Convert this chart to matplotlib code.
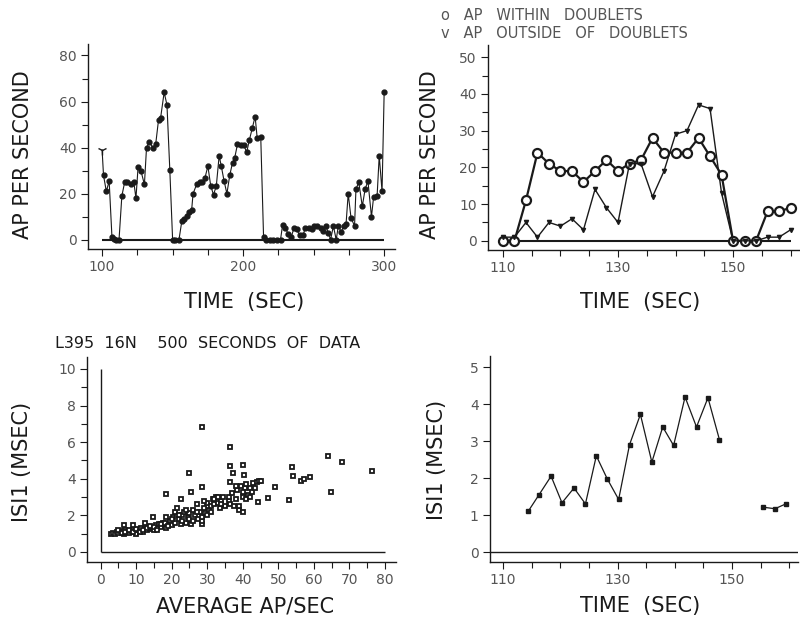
import matplotlib
matplotlib.use('Agg')
import matplotlib.pyplot as plt
from matplotlib.ticker import MultipleLocator

# top left: AP per second over 100-300 s
rate_t = [100, 101, 103, 105, 107, 108.5, 110, 112, 114, 116, 118, 120.5, 122.5, 124, 125.5,
          127.5, 130, 131.5, 133.5, 136, 138, 140, 141.5, 144, 146, 148, 150, 152, 154.5,
          156.5, 158, 160, 161.5, 163.5, 164.5, 167, 169.5, 171, 173, 175, 177, 179, 181,
          183, 184.5, 186.5, 188.5, 190.5, 192.5, 194, 196, 198.5, 200.5, 202.5, 204.5,
          206.5, 208.5, 210, 212.5, 214.5, 216.5, 219, 221.5, 224, 226.5, 228, 230, 232,
          234, 236, 238, 240, 242.5, 244, 246.5, 248.5, 250.5, 252.5, 255, 256.5, 258.5,
          260.5, 262, 264, 266, 267.5, 269.5, 271.5, 273, 274.5, 276.5, 279, 280, 282,
          284.5, 286.5, 288.5, 291, 292.5, 295, 296.5, 298.5, 300]
rate_v = [39, 28, 21, 25.5, 1, 0.3, 0, 0, 19, 25, 25, 24, 25, 18, 31.5,
          30, 24, 40, 42.5, 40, 41.5, 52, 53, 64, 58.5, 30.5, 0, 0, 0,
          8, 9, 10.5, 12, 13, 20, 24, 25, 25, 27, 32, 23.5, 19.5, 23.5,
          36.5, 32, 25.5, 20, 28, 33.5, 35.5, 41.5, 41, 41, 38, 43.5,
          48.5, 53.5, 44, 44.5, 1, 0, 0, 0, 0, 0, 6.5, 5, 2.5,
          1, 5, 4.5, 2, 2, 5, 5, 4.5, 6, 6, 5, 4, 6,
          3, 0, 6, 0, 6, 3.5, 6, 7, 20, 9.5, 6, 22, 25,
          14.5, 22, 25.5, 10, 18.5, 19, 36.5, 21, 64]

# top right: AP within / outside doublets
dbl_t = [110, 112, 114, 116, 118, 120, 122, 124, 126, 128, 130, 132, 134,
         136, 138, 140, 142, 144, 146, 148, 150, 152, 154, 156, 158, 160]
within = [0, 0, 11, 24, 21, 19, 19, 16, 19, 22, 19, 21, 22,
          28, 24, 24, 24, 28, 23, 18, 0, 0, 0, 8, 8, 9]
outside = [1, 1, 5, 1, 5, 4, 6, 3, 14, 9, 5, 21, 21,
           12, 19, 29, 30, 37, 36, 13, 0, 0, 0, 1, 1, 3]

# bottom left: ISI1 vs average rate (500 s of data)
avg_rate = [3, 3.5, 4, 4.5, 5, 5.5, 6, 6.5, 7, 7.5, 8, 8.5, 9, 9.5, 10, 10.5, 11, 11.5,
            12, 12.5, 13, 13.5, 14, 14.5, 15, 15.5, 16, 16.5, 17, 17.5, 18, 18.5, 19,
            19.5, 20, 20.5, 21, 21, 21.5, 22, 22.5, 23, 23.5, 24, 24.5, 25, 25.5, 26,
            26.5, 27, 27.5, 28, 28.5, 28.5, 28.5, 29, 29.5, 30, 30.5, 31, 31.5, 32,
            32.5, 33, 33.5, 34, 34.5, 35, 36, 36, 36.5, 37, 37.5, 38, 38.5, 39, 39.5,
            40, 40, 40.5, 41, 41.5, 42, 42.5, 43, 43.5, 44, 44.5, 45,
            5, 6, 7, 8, 9, 10, 11, 12, 13, 14, 15, 16, 17, 18, 19, 20, 22, 23, 24,
            25, 26, 27, 29, 30, 31, 32, 33, 34, 38, 39, 40, 41, 42,
            28.6, 36.3, 36.3, 37.2, 40.2, 40.4, 24.8, 28.6, 36.4, 18.4, 22.6, 25.4,
            53.8, 54.0, 56.3, 57.1, 59.0, 64.0, 68.0, 76.2, 64.8, 49.0, 47.2, 52.9,
            44.2, 14.7, 18.4, 9.0, 6.5, 12.5]
isi_avg = [1.0, 1.05, 1.0, 1.1, 1.05, 1.15, 1.1, 1.0, 1.2, 1.1, 1.05, 1.15, 1.2, 1.1, 1.0,
           1.2, 1.15, 1.3, 1.1, 1.25, 1.2, 1.35, 1.25, 1.3, 1.2, 1.45, 1.3, 1.5, 1.35,
           1.6, 1.4, 1.3, 1.55, 1.7, 1.45, 1.9, 1.6, 2.2, 2.4, 1.8, 1.55, 2.0, 2.2, 1.6,
           1.9, 2.1, 1.5, 2.3, 2.0, 2.6, 1.8, 2.2, 1.5, 1.7, 1.9, 2.4, 2.1, 2.7, 2.3,
           2.5, 2.9, 2.6, 3.0, 2.7, 2.4, 2.8, 3.0, 2.5, 2.8, 3.0, 2.6, 3.2, 2.5, 2.9,
           3.4, 2.3, 3.6, 2.2, 3.0, 3.5, 3.7, 3.1, 3.5, 3.3, 3.75, 3.5, 3.8, 3.85, 3.85,
           1.2, 1.05, 1.1, 1.2, 1.1, 1.25, 1.1, 1.2, 1.3, 1.4, 1.35, 1.2, 1.5, 1.6, 1.4,
           1.8, 2.0, 1.7, 2.3, 1.8, 1.7, 2.2, 2.8, 2.0, 2.2, 2.9, 3.0, 2.6, 3.6, 2.5,
           3.3, 2.9, 3.0,
           6.85, 5.75, 4.72, 4.3, 4.75, 4.2, 4.3, 3.53, 3.8, 3.17, 2.89, 3.25,
           4.66, 4.17, 3.9, 3.99, 4.11, 5.26, 4.93, 4.44, 3.3, 3.57, 2.93, 2.84,
           2.71, 1.93, 1.93, 1.47, 1.47, 1.56]

# bottom right: ISI1 over time
isi_t = [114.4, 116.3, 118.4, 120.3, 122.4, 124.4, 126.3, 128.2, 130.2, 132.1, 134,
         136, 137.9, 139.8, 141.8, 143.8, 145.8, 147.8]
isi_v = [1.1, 1.55, 2.05, 1.33, 1.73, 1.3, 2.6, 1.98, 1.42, 2.9, 3.72,
         2.43, 3.38, 2.88, 4.19, 3.38, 4.17, 3.04]
isi_t2 = [155.5, 157.5, 159.4]
isi_v2 = [1.21, 1.17, 1.3]

INK = '#1a1a1a'
TICK_INK = '#555555'


def style(ax):
    for s in ['top', 'right']:
        ax.spines[s].set_visible(False)
    for s in ['left', 'bottom']:
        ax.spines[s].set_linewidth(1.0)
        ax.spines[s].set_color(INK)
    ax.tick_params(which='both', direction='out', width=0.8, color=INK,
                   labelsize=10, labelcolor=TICK_INK, pad=3)
    ax.tick_params(which='major', length=5)
    ax.tick_params(which='minor', length=4)


fig = plt.figure(figsize=(8, 6.28), dpi=100)

# --- top left
ax1 = fig.add_axes([0.110, 0.6035, 0.3843, 0.3265])
style(ax1)
ax1.hlines(0, 100, 300, color=INK, lw=1.5)
ax1.plot(rate_t[1:], rate_v[1:], '-o', color=INK, lw=0.8, ms=3.5, mec=INK)
ax1.plot(rate_t[:2], rate_v[:2], '-', color=INK, lw=0.8)
ax1.plot(rate_t[0], rate_v[0], marker='1', color=INK, ms=7)
ax1.set_xlim(90, 308)
ax1.set_ylim(-4, 85)
ax1.set_xticks([100, 200, 300])
ax1.xaxis.set_minor_locator(MultipleLocator(25))
ax1.set_yticks([0, 20, 40, 60, 80])
ax1.yaxis.set_minor_locator(MultipleLocator(10))

# --- top right
ax2 = fig.add_axes([0.610, 0.6019, 0.389, 0.3264])
style(ax2)
ax2.hlines(0, 110, 160, color=INK, lw=1.5)
ax2.plot(dbl_t, within, '-o', color=INK, lw=1.6, ms=6.5, mfc='white', mec=INK, mew=1.6)
ax2.plot(dbl_t, outside, '-v', color=INK, lw=1.0, ms=3)
ax2.set_xlim(107.4, 161.5)
ax2.set_ylim(-2.5, 53.3)
ax2.set_xticks([110, 130, 150])
ax2.xaxis.set_minor_locator(MultipleLocator(5))
ax2.set_yticks([0, 10, 20, 30, 40, 50])
ax2.yaxis.set_minor_locator(MultipleLocator(5))

# --- bottom left
ax3 = fig.add_axes([0.1088, 0.1051, 0.3858, 0.3264])
style(ax3)
ax3.hlines(0, 0, 80, color=INK, lw=1.0)
ax3.vlines(0, 0, 10, color=INK, lw=1.0)
ax3.plot(avg_rate, isi_avg, 's', ls='none', ms=3.0, mfc='white', mec=INK, mew=1.3)
ax3.set_xlim(-3.8, 83)
ax3.set_ylim(-0.55, 10.65)
ax3.set_xticks(range(0, 81, 10))
ax3.xaxis.set_minor_locator(MultipleLocator(5))
ax3.set_yticks(range(0, 11, 2))
ax3.yaxis.set_minor_locator(MultipleLocator(1))

# --- bottom right
ax4 = fig.add_axes([0.6123, 0.1057, 0.385, 0.3275])
style(ax4)
ax4.hlines(0, 107.7, 161.5, color=INK, lw=1.0)
ax4.plot(isi_t, isi_v, '-s', color=INK, lw=0.9, ms=3)
ax4.plot(isi_t2, isi_v2, '-s', color=INK, lw=0.9, ms=2.5)
ax4.set_xlim(107.7, 161.5)
ax4.set_ylim(-0.26, 5.3)
ax4.set_xticks([110, 130, 150])
ax4.xaxis.set_minor_locator(MultipleLocator(5))
ax4.set_yticks(range(0, 6))

# labels and headers
lab = dict(color=INK, ha='center', va='center', fontsize=15)
fig.text(23 / 800, 1 - 155 / 628, 'AP PER SECOND', rotation=90, **lab)
fig.text(430 / 800, 1 - 155 / 628, 'AP PER SECOND', rotation=90, **lab)
fig.text(22 / 800, 1 - 462 / 628, 'ISI1 (MSEC)', rotation=90, **lab)
fig.text(437 / 800, 1 - 460 / 628, 'ISI1 (MSEC)', rotation=90, **lab)
fig.text(244 / 800, 1 - 302 / 628, 'TIME  (SEC)', **lab)
fig.text(640 / 800, 1 - 302 / 628, 'TIME  (SEC)', **lab)
fig.text(245 / 800, 1 - 606 / 628, 'AVERAGE AP/SEC', **lab)
fig.text(640 / 800, 1 - 606 / 628, 'TIME  (SEC)', **lab)

fig.text(55 / 800, 1 - 343 / 628, 'L395  16N    500  SECONDS  OF  DATA', color=INK,
         ha='left', va='center', fontsize=11.5)
fig.text(441 / 800, 1 - 15 / 628, 'o   AP   WITHIN   DOUBLETS', color='#555555',
         ha='left', va='center', fontsize=10.5)
fig.text(441 / 800, 1 - 33 / 628, 'v   AP   OUTSIDE   OF   DOUBLETS', color='#555555',
         ha='left', va='center', fontsize=10.5)

fig.savefig('out.png', dpi=100, facecolor='white')
